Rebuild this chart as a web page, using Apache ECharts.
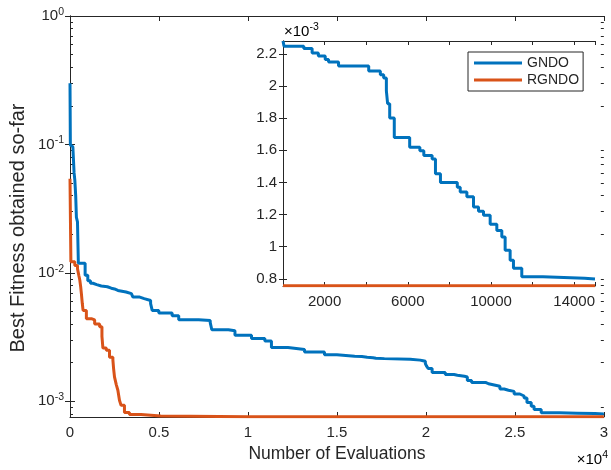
<!DOCTYPE html>
<html>
<head>
<meta charset="utf-8">
<script src="https://cdn.jsdelivr.net/npm/echarts@6/dist/echarts.min.js"></script>
<style>html,body{margin:0;padding:0;background:#fff;}#c{width:611px;height:470px;}</style>
</head>
<body>
<div id="c"></div>
<script>
// ---- data ----
const gndoX = [0, 20, 100, 160, 230, 270, 320, 360, 420, 470, 850, 1000, 1150, 1290, 1500, 1760, 2100, 2320, 2500, 2690, 3150, 3450, 3530, 3880, 4170, 4530, 4620, 4990, 5740, 6110, 7230, 7880, 7970, 8900, 9270, 10200, 10950, 11320, 12250, 13180, 14300, 15000, 15050, 16000, 16400, 16700, 17030, 17190, 17670, 19120, 19680, 19840, 19970, 20030, 20130, 20350, 21090, 21580, 21770, 22170, 22330, 22570, 23380, 23520, 23840, 24160, 24400, 24640, 24960, 25280, 25520, 25680, 25920, 26080, 26480, 27500, 28500, 29500, 30000];
const gndoY = [0.3, 0.099, 0.096, 0.093, 0.06, 0.053, 0.04, 0.027, 0.025, 0.0119, 0.0096, 0.0087, 0.0083, 0.0081, 0.0079, 0.0078, 0.0076, 0.0075, 0.0073, 0.0071, 0.0069, 0.0067, 0.0065, 0.0063, 0.0061, 0.00576, 0.0051, 0.00487, 0.00463, 0.00432, 0.00426, 0.0041, 0.00361, 0.00354, 0.00327, 0.00308, 0.00295, 0.00262, 0.00253, 0.00242, 0.0023, 0.00228, 0.002248, 0.002233, 0.002206, 0.002186, 0.002165, 0.00215, 0.002124, 0.002093, 0.00207, 0.00205, 0.00197, 0.00189, 0.0018, 0.00168, 0.001618, 0.001597, 0.001567, 0.001546, 0.001453, 0.0014, 0.00137, 0.00134, 0.00131, 0.001246, 0.00122, 0.001195, 0.00114, 0.0011, 0.00106, 0.000978, 0.000916, 0.000865, 0.000813, 0.000808, 0.000803, 0.000798, 0.000795];
const rgndoX = [0, 50, 270, 420, 500, 550, 600, 640, 690, 735, 920, 1200, 1385, 1665, 1795, 1850, 2040, 2220, 2410, 2450, 2500, 2600, 2690, 2780, 2870, 3060, 3340, 3990, 5100, 10000, 30000];
const rgndoY = [0.054, 0.0122, 0.0114, 0.0108, 0.0095, 0.0088, 0.0078, 0.0069, 0.0058, 0.0051, 0.0044, 0.0043, 0.004, 0.0038, 0.0032, 0.0026, 0.0025, 0.0022, 0.0021, 0.0018, 0.00155, 0.00135, 0.00122, 0.00102, 0.00093, 0.00082, 0.00079, 0.00077, 0.00076, 0.000757, 0.000755];
const seriesNames = ['GNDO', 'RGNDO'];
const mainYMajor = [0.001, 0.01, 0.1, 1];
const mainYMinor = [0.0008, 0.0009, 0.002, 0.003, 0.004, 0.005, 0.006, 0.007, 0.008, 0.009, 0.02, 0.03, 0.04, 0.05, 0.06, 0.07, 0.08, 0.09, 0.2, 0.3, 0.4, 0.5, 0.6, 0.7, 0.8, 0.9];
const insetStart = 15000;   // inset shows evaluations 15000..30000, re-indexed
const insetXLabels = [2000, 6000, 10000, 14000];
const insetYTicks = [0.0008, 0.001, 0.0012, 0.0014, 0.0016, 0.0018, 0.002, 0.0022];
const xTitle = 'Number of Evaluations';
const yTitle = 'Best Fitness obtained so-far';

// ---- helpers ----
const pairs = (xs, ys) => xs.map((x, i) => [x, ys[i]]);
function sliceFrom(xs, ys, start) {
  const out = [];
  let last = ys[0];
  for (let i = 0; i < xs.length; i++) { if (xs[i] <= start) last = ys[i]; }
  out.push([0, last]);
  for (let i = 0; i < xs.length; i++) { if (xs[i] > start) out.push([xs[i] - start, ys[i]]); }
  return out;
}

const C_G = '#0072BD', C_R = '#D95319', AX = '#262626';
const FONT = 'Liberation Sans';
const yMin = 0.000755;
const insetYMin = 0.000755, insetYMax = 0.00228;

const chart = echarts.init(document.getElementById('c'), null, {renderer: 'canvas'});

const lineStyleAxis = {show: true, lineStyle: {color: AX, width: 1}};
const supRich = {
  b: {fontSize: 15, fontFamily: FONT, color: AX},
  s: {fontSize: 10.5, fontFamily: FONT, color: AX, padding: [0, 0, 8, 0]}
};

const option = {
  animation: false,
  backgroundColor: '#fff',
  textStyle: {fontFamily: FONT},
  grid: [
    {left: 70, top: 16, right: 3, bottom: 53, containLabel: false},
    {left: 283, top: 41, width: 312, height: 245, containLabel: false, show: true, backgroundColor: '#fff', borderWidth: 0, z: 3}
  ],
  legend: {
    data: seriesNames,
    orient: 'vertical',
    left: 468, top: 52,
    icon: 'rect', itemWidth: 48, itemHeight: 3, itemGap: 3,
    padding: [4, 4, 4, 6],
    borderColor: AX, borderWidth: 1, backgroundColor: '#fff',
    textStyle: {fontSize: 14, color: AX, fontFamily: FONT},
    z: 10
  },
  xAxis: [
    {gridIndex: 0, type: 'value', min: 0, max: 30000, interval: 5000, position: 'bottom',
     axisLine: lineStyleAxis, axisTick: {inside: true, length: 5, lineStyle: {color: AX}},
     axisLabel: {fontSize: 15, color: AX, margin: 8, formatter: v => String(v / 10000)},
     splitLine: {show: false},
     name: xTitle, nameLocation: 'middle', nameGap: 28,
     nameTextStyle: {fontSize: 17.5, color: AX}},
    {gridIndex: 0, type: 'value', min: 0, max: 30000, interval: 5000, position: 'top',
     axisLine: lineStyleAxis, axisTick: {inside: true, length: 5, lineStyle: {color: AX}},
     axisLabel: {show: false}, splitLine: {show: false}},
    {gridIndex: 1, type: 'value', min: 0, max: 15000, interval: 2000, position: 'bottom', z: 4,
     axisLine: lineStyleAxis, axisTick: {inside: true, length: 4, lineStyle: {color: AX}},
     axisLabel: {fontSize: 15, color: AX, margin: 8, customValues: insetXLabels, formatter: v => String(v)},
     splitLine: {show: false}},
    {gridIndex: 1, type: 'value', min: 0, max: 15000, interval: 2000, position: 'top', z: 4,
     axisLine: lineStyleAxis, axisTick: {inside: true, length: 4, lineStyle: {color: AX}},
     axisLabel: {show: false}, splitLine: {show: false}}
  ],
  yAxis: [
    {gridIndex: 0, type: 'log', logBase: 10, min: yMin, max: 1, position: 'left',
     axisLine: lineStyleAxis,
     axisTick: {inside: true, length: 5, lineStyle: {color: AX}, customValues: mainYMajor},
     axisLabel: {customValues: mainYMajor, margin: 6,
       formatter: v => '{b|10}{s|' + Math.round(Math.log10(v)) + '}', rich: supRich},
     splitLine: {show: false}},
    {gridIndex: 0, type: 'log', logBase: 10, min: yMin, max: 1, position: 'right',
     axisLine: lineStyleAxis,
     axisTick: {inside: true, length: 5, lineStyle: {color: AX}, customValues: mainYMajor},
     axisLabel: {show: false}, splitLine: {show: false}},
    {gridIndex: 0, type: 'log', logBase: 10, min: yMin, max: 1, position: 'left',
     axisLine: {show: false},
     axisTick: {inside: true, length: 3, lineStyle: {color: AX}, customValues: mainYMinor},
     axisLabel: {show: false}, splitLine: {show: false}},
    {gridIndex: 0, type: 'log', logBase: 10, min: yMin, max: 1, position: 'right',
     axisLine: {show: false},
     axisTick: {inside: true, length: 3, lineStyle: {color: AX}, customValues: mainYMinor},
     axisLabel: {show: false}, splitLine: {show: false}},
    {gridIndex: 1, type: 'value', min: insetYMin, max: insetYMax, position: 'left', z: 4,
     axisLine: lineStyleAxis,
     axisTick: {inside: true, length: 4, lineStyle: {color: AX}, customValues: insetYTicks},
     axisLabel: {customValues: insetYTicks, fontSize: 15, color: AX, margin: 6,
       formatter: v => String(parseFloat((v * 1000).toFixed(2)))},
     splitLine: {show: false}},
    {gridIndex: 1, type: 'value', min: insetYMin, max: insetYMax, position: 'right', z: 4,
     axisLine: lineStyleAxis,
     axisTick: {inside: true, length: 4, lineStyle: {color: AX}, customValues: insetYTicks},
     axisLabel: {show: false}, splitLine: {show: false}}
  ],
  graphic: [
    {type: 'text', x: 18, y: 228, rotation: Math.PI / 2, z: 10,
     style: {text: yTitle, fontSize: 20, fontFamily: FONT, fill: AX, align: 'center', verticalAlign: 'middle'}},
    {type: 'text', right: 3, top: 450, z: 10,
     style: {text: '{a|×10}{s|4}', rich: {a: {fontSize: 15, fontFamily: FONT, color: AX}, s: {fontSize: 10.5, fontFamily: FONT, color: AX, padding: [0, 0, 8, 0]}}}},
    {type: 'text', left: 284, top: 22, z: 10,
     style: {text: '{a|×10}{s|-3}', rich: {a: {fontSize: 15, fontFamily: FONT, color: AX}, s: {fontSize: 10.5, fontFamily: FONT, color: AX, padding: [0, 0, 8, 0]}}}}
  ],
  series: [
    {name: seriesNames[0], type: 'line', xAxisIndex: 0, yAxisIndex: 0, data: pairs(gndoX, gndoY),
     step: 'end', showSymbol: false, symbol: 'none', lineStyle: {color: C_G, width: 3}, itemStyle: {color: C_G}, z: 2},
    {name: seriesNames[1], type: 'line', xAxisIndex: 0, yAxisIndex: 0, data: pairs(rgndoX, rgndoY),
     step: 'end', showSymbol: false, symbol: 'none', lineStyle: {color: C_R, width: 3}, itemStyle: {color: C_R}, z: 3},
    {name: seriesNames[0], type: 'line', xAxisIndex: 2, yAxisIndex: 4, data: sliceFrom(gndoX, gndoY, insetStart),
     step: 'end', showSymbol: false, symbol: 'none', lineStyle: {color: C_G, width: 3}, itemStyle: {color: C_G}, z: 5},
    {name: seriesNames[1], type: 'line', xAxisIndex: 2, yAxisIndex: 4, data: sliceFrom(rgndoX, rgndoY, insetStart),
     step: 'end', showSymbol: false, symbol: 'none', lineStyle: {color: C_R, width: 3}, itemStyle: {color: C_R}, z: 6}
  ]
};
chart.setOption(option);
</script>
</body>
</html>
